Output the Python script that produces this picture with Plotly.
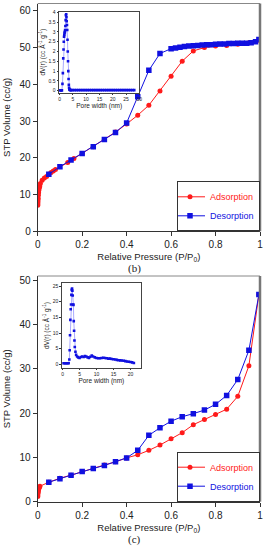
import plotly.graph_objects as go

# ---------------- data : panel (b) ----------------
p_ads_b = [0.0003, 0.0006, 0.001, 0.0015, 0.002, 0.003, 0.004, 0.005, 0.007, 0.009,
           0.012, 0.02, 0.03, 0.04, 0.05, 0.06, 0.07, 0.08, 0.135, 0.163,
           0.2, 0.25, 0.3, 0.35, 0.4, 0.45, 0.5, 0.55, 0.6, 0.65,
           0.7, 0.75, 0.8, 0.85, 0.9, 0.95, 0.995]
v_ads_b = [7.1, 7.5, 8.0, 8.5, 9.0, 9.8, 10.5, 11.2, 11.8, 12.2,
           13.0, 13.9, 14.5, 14.9, 15.5, 16.0, 16.4, 16.8, 18.7, 19.8,
           21.2, 23.0, 25.0, 27.0, 29.2, 31.6, 34.3, 38.2, 42.2, 46.3,
           49.1, 50.0, 50.4, 50.6, 50.9, 51.3, 52.0]
p_des_b = [0.995, 0.98, 0.96, 0.94, 0.92, 0.9, 0.88, 0.86, 0.84, 0.82,
           0.8, 0.78, 0.76, 0.74, 0.72, 0.7, 0.68, 0.66, 0.64, 0.62,
           0.6, 0.55, 0.5, 0.45, 0.4, 0.35, 0.3, 0.25, 0.2, 0.15,
           0.1, 0.05]
v_des_b = [52.2, 51.6, 51.3, 51.2, 51.2, 51.2, 51.1, 51.1, 51.0, 51.0,
           50.9, 50.8, 50.8, 50.7, 50.6, 50.5, 50.4, 50.3, 50.1, 49.9,
           49.7, 48.4, 43.8, 36.6, 29.5, 26.9, 25.0, 23.0, 21.2, 19.4,
           17.6, 15.5]
# inset (b): pore size distribution
w_b = [0.3, 0.6, 0.9, 1.1, 1.25, 1.4, 1.5, 1.6, 1.7, 1.8,
       1.9, 2.0, 2.1, 2.2, 2.3, 2.4, 2.5, 2.6, 2.7, 2.8,
       2.9, 3.0, 3.1, 3.2, 3.3, 3.4, 3.5, 3.6, 3.7, 3.8,
       3.9, 4.1, 4.4, 5.0, 5.7, 6.4, 7.1, 7.8, 8.5, 9.2,
       9.9, 10.6, 11.3, 12.0, 12.7, 13.4, 14.1, 14.8, 15.5, 16.2,
       16.9, 17.6, 18.3, 19.0, 19.7, 20.4, 21.1, 21.8, 22.5, 23.2,
       23.9, 24.6, 25.3, 26.0, 26.7, 27.4, 28.1]
dv_b = [0.02, 0.02, 0.02, 0.35, 0.9, 1.65, 2.1, 2.5, 2.75, 2.85,
        2.95, 3.0, 3.1, 3.3, 3.6, 3.85, 3.9, 3.75, 3.55, 3.35,
        3.1, 2.6, 2.0, 1.5, 1.0, 0.6, 0.3, 0.15, 0.08, 0.05,
        0.04, 0.03, 0.03, 0.03, 0.03, 0.03, 0.03, 0.03, 0.03, 0.03,
        0.03, 0.03, 0.03, 0.03, 0.03, 0.03, 0.03, 0.03, 0.03, 0.03,
        0.03, 0.03, 0.03, 0.03, 0.03, 0.03, 0.03, 0.03, 0.03, 0.03,
        0.03, 0.03, 0.03, 0.03, 0.03, 0.03, 0.03]

# ---------------- data : panel (c) ----------------
p_ads_c = [0.0003, 0.0006, 0.001, 0.002, 0.003, 0.004, 0.006, 0.008, 0.01,
           0.05, 0.1, 0.15, 0.2, 0.25, 0.3, 0.35, 0.4, 0.45, 0.5,
           0.55, 0.6, 0.65, 0.7, 0.75, 0.8, 0.85, 0.9, 0.95, 0.995]
v_ads_c = [1.2, 1.5, 1.9, 2.2, 2.5, 2.8, 3.1, 3.3, 3.5,
           4.4, 5.3, 6.0, 6.8, 7.5, 8.3, 9.0, 9.9, 10.6, 11.6,
           12.8, 14.2, 15.6, 17.4, 18.6, 19.7, 20.9, 23.8, 30.7, 46.8]
p_des_c = [0.995, 0.95, 0.9, 0.85, 0.8, 0.75, 0.7, 0.65, 0.6, 0.55,
           0.5, 0.45, 0.4, 0.35, 0.3, 0.25, 0.2, 0.15, 0.1, 0.05]
v_des_c = [46.8, 34.2, 27.6, 24.0, 22.0, 20.7, 19.9, 19.2, 18.2, 16.7,
           15.0, 11.6, 9.9, 9.0, 8.2, 7.5, 6.8, 6.0, 5.2, 4.4]
# inset (c)
w_c = [0.3, 0.6, 0.9, 1.2, 1.5, 1.8, 2.0, 2.1, 2.2, 2.3,
       2.4, 2.5, 2.6, 2.7, 2.8, 2.9, 3.0, 3.1, 3.2, 3.3,
       3.4, 3.5, 3.6, 3.8, 4.0, 4.3, 4.6, 5.0, 5.4, 5.8,
       6.2, 6.6, 7.0, 7.4, 7.8, 8.2, 8.6, 9.0, 9.5, 10.0,
       10.5, 11.0, 11.5, 12.0, 12.5, 13.0, 13.5, 14.0, 14.5, 15.0,
       15.5, 16.0, 16.5, 17.0, 17.5, 18.0, 18.5, 19.0, 19.5, 20.0,
       20.5, 21.0]
dv_c = [0.3, 0.3, 0.3, 0.3, 0.3, 0.3, 1.5, 4.5, 9.3, 14.2,
        17.6, 19.1, 22.2, 23.8, 24.2, 23.5, 22.0, 19.1, 19.0, 13.8,
        10.7, 7.6, 5.5, 4.0, 3.0, 2.5, 2.2, 2.0, 2.3, 2.5,
        2.3, 2.6, 2.5, 2.2, 2.0, 2.4, 2.8, 2.5, 2.2, 2.0,
        1.9, 1.9, 2.0, 2.1, 2.0, 1.9, 1.8, 1.8, 1.7, 1.6,
        1.5, 1.4, 1.3, 1.25, 1.2, 1.1, 1.0, 0.9, 0.8, 0.7,
        0.6, 0.4]

x_tickvals = [0, 0.2, 0.4, 0.6, 0.8, 1]
x_ticktext = ["0", "0.2", "0.4", "0.6", "0.8", "1"]

for a, b in [(p_ads_b, v_ads_b), (p_des_b, v_des_b), (w_b, dv_b),
             (p_ads_c, v_ads_c), (p_des_c, v_des_c), (w_c, dv_c)]:
    assert len(a) == len(b), (len(a), len(b))

W, H = 268, 550
def fx(px):
    return px / W
def fy(py):
    return 1 - py / H

RED = "#ff1a1a"
BLUE = "#1010e0"
SANS = "Liberation Sans, Arial, sans-serif"
SERIF = "Liberation Serif, Times New Roman, serif"

fig = go.Figure()

def main_pair(xa, ya, px_a, v_a, px_d, v_d, legend):
    fig.add_trace(go.Scatter(
        x=px_a, y=v_a, mode="lines+markers", xaxis=xa, yaxis=ya,
        name="<span style='color:%s'>Adsorption</span>" % RED,
        line=dict(color=RED, width=1),
        marker=dict(symbol="circle", size=5, color=RED),
        legend=legend))
    fig.add_trace(go.Scatter(
        x=px_d, y=v_d, mode="lines+markers", xaxis=xa, yaxis=ya,
        name="<span style='color:%s'>Desorption</span>" % BLUE,
        line=dict(color=BLUE, width=1),
        marker=dict(symbol="square", size=5.5, color=BLUE),
        legend=legend))

def inset(xa, ya, w, dv):
    fig.add_trace(go.Scatter(
        x=w, y=dv, mode="lines+markers", xaxis=xa, yaxis=ya,
        line=dict(color="rgba(60,60,255,0.55)", width=0.8),
        marker=dict(symbol="square", size=2.6, color=BLUE),
        showlegend=False))

main_pair("x", "y", p_ads_b, v_ads_b, p_des_b, v_des_b, "legend")
inset("x2", "y2", w_b, dv_b)
main_pair("x3", "y3", p_ads_c, v_ads_c, p_des_c, v_des_c, "legend2")
inset("x4", "y4", w_c, dv_c)

tickfont = dict(family=SANS, size=10, color="#222")
titlefont = dict(family=SANS, size=9.5, color="#222")

def main_x(dom_y_anchor):
    return dict(domain=[fx(37.7), fx(260)], range=[0, 1], anchor=dom_y_anchor,
                tickvals=x_tickvals, ticktext=x_ticktext, ticks="outside",
                ticklen=4, tickcolor="#333", showgrid=False, zeroline=False,
                showline=True, linecolor="#333", linewidth=1,
                tickfont=tickfont, ticklabeloverflow="allow",
                title=dict(text="Relative Pressure (P/P<sub>0</sub>)",
                           font=titlefont, standoff=4))

def main_y(dom, rng, dtick, x_anchor):
    return dict(domain=dom, range=rng, anchor=x_anchor, dtick=dtick, tick0=0,
                ticks="outside", ticklen=4, tickcolor="#333", showgrid=False,
                zeroline=False, showline=True, linecolor="#333", linewidth=1,
                tickfont=tickfont, ticklabeloverflow="allow",
                title=dict(text="STP Volume (cc/g)", font=titlefont, standoff=7))

insfont = dict(family=SANS, size=5, color="#222")
institle = dict(family=SANS, size=6.5, color="#222")

def ins_x(dom, rng, y_anchor, standoff):
    return dict(domain=dom, range=rng, anchor=y_anchor, dtick=5, tick0=0,
                ticks="outside", ticklen=1.5, tickcolor="#333", showgrid=False,
                zeroline=False, showline=True, mirror=True, linecolor="#444",
                linewidth=1, tickfont=insfont, ticklabeloverflow="allow",
                title=dict(text="Pore width (nm)", font=institle, standoff=standoff))

def ins_y(dom, rng, dtick, x_anchor, standoff):
    return dict(domain=dom, range=rng, anchor=x_anchor, dtick=dtick, tick0=0,
                ticks="outside", ticklen=1.5, tickcolor="#333", showgrid=False,
                zeroline=False, showline=True, mirror=True, linecolor="#444",
                linewidth=1, tickfont=insfont, ticklabeloverflow="allow",
                title=dict(text="dV(r) (cc Å<sup>-1</sup> g<sup>-1</sup>)",
                           font=dict(family=SANS, size=6.5, color="#222"),
                           standoff=standoff))

dom_b = [fy(231.3), fy(3.5)]
dom_c = [fy(501.7), fy(276)]

legend_common = dict(xanchor="right", yanchor="bottom", bgcolor="white",
                     bordercolor="#333", borderwidth=1,
                     font=dict(family=SANS, size=9), itemwidth=30,
                     tracegroupgap=0, indentation=-8)

fig.update_layout(
    width=W, height=H,
    margin=dict(l=0, r=0, t=0, b=0, pad=0, autoexpand=False),
    paper_bgcolor="white", plot_bgcolor="white",
    xaxis=main_x("y"),
    yaxis=main_y(dom_b, [0, 62], 10, "x"),
    xaxis2=ins_x([fx(59), fx(139.3)], [-0.2, 30], "y2", 2),
    yaxis2=ins_y([fy(92.7), fy(11.7)], [-0.1, 4.03], 0.5, "x2", 2),
    xaxis3=main_x("y3"),
    yaxis3=main_y(dom_c, [0, 51], 10, "x3"),
    xaxis4=ins_x([fx(61.7), fx(141)], [-0.25, 23.1], "y4", 2),
    yaxis4=ins_y([fy(367.7), fy(283.3)], [-1.1, 25.9], 5, "x4", 2),
    legend=dict(x=fx(260), y=fy(231.3), **legend_common),
    legend2=dict(x=fx(260), y=fy(501.7), **legend_common),
    showlegend=True,
)

# frame: grey top border and thick grey right border of both main plots
for xr, yr in [("x domain", "y domain"), ("x3 domain", "y3 domain")]:
    fig.add_shape(type="line", xref=xr, yref=yr, x0=0, x1=1, y0=1, y1=1,
                  line=dict(color="#888", width=1))
    fig.add_shape(type="line", xref=xr, yref=yr, x0=1, x1=1, y0=0, y1=1,
                  line=dict(color="#777", width=2.5))

fig.add_annotation(text="(b)", x=fx(134), y=fy(268), xref="paper", yref="paper",
                   xanchor="center", yanchor="middle", showarrow=False,
                   font=dict(family=SERIF, size=11, color="#222"))
fig.add_annotation(text="(c)", x=fx(134), y=fy(539), xref="paper", yref="paper",
                   xanchor="center", yanchor="middle", showarrow=False,
                   font=dict(family=SERIF, size=11, color="#222"))

# the page body has a default 8px margin; remove it so the figure fills the window
fig.write_html("out.html",
               config={"displayModeBar": False},
               post_script="document.body.style.margin='0';"
                           "document.body.style.overflow='hidden';")
